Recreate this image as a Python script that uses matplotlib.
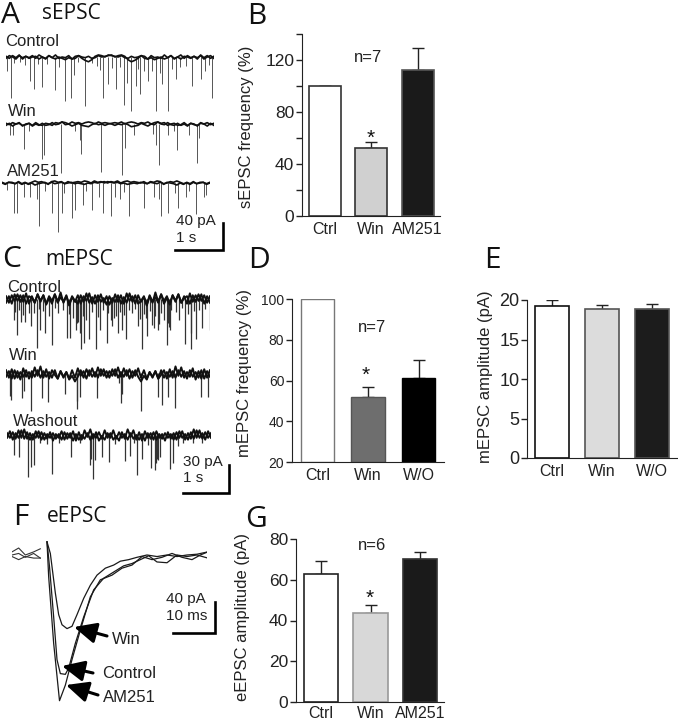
import numpy as np
import matplotlib
matplotlib.use('Agg')
import matplotlib.pyplot as plt

W, H = 678, 720
plt.rcParams['font.family'] = ['Liberation Sans', 'DejaVu Sans']

# bar panels: mean and top of the error bar
b_names = ['Ctrl', 'Win', 'AM251']
b_vals = [100, 52, 112]
b_tops = [100, 57, 129]

d_names = ['Ctrl', 'Win', 'W/O']
d_vals = [100, 52, 61]
d_tops = [100, 57, 70]

e_names = ['Ctrl', 'Win', 'W/O']
e_vals = [19.3, 18.8, 18.9]
e_tops = [20.0, 19.4, 19.5]

g_names = ['Ctrl', 'Win', 'AM251']
g_vals = [63, 43.5, 70]
g_tops = [69, 47.5, 73.5]

# traces: event time (s) and amplitude (pA)
a1_t = [.10, .02, .49, .59, .74, 1.02, 1.23, 1.35, 1.41, 1.64, 1.95, 2.03, 2.12, 2.30, 2.45, 2.52, 2.61, 2.70, 2.79, 2.95,
        3.12, 3.26, 3.37, 3.54, 3.88, 4.06, 4.30, .17, .30, .40, .66, .85, 1.10, 1.50, 1.80, 1.90, 2.20, 2.38, 2.75, 2.88,
        3.05, 3.20, 3.45, 3.62, 3.75, 4.15, 4.22]
a1_a = [61, 20, 36, 47, 44, 49, 65, 60, 26, 72, 19, 60, 40, 47, 70, 38, 80, 43, 55, 36,
        80, 40, 80, 33, 42, 33, 60, 9, 8, 12, 10, 11, 14, 7, 9, 13, 16, 14, 18, 21,
        20, 24, 18, 15, 13, 20, 12]
a2_t = [.09, .14, .38, .74, .80, 1.14, 1.57, 1.54, 1.97, 2.41, 2.47, 3.06, 3.13, 3.19, 3.37, 3.57, 3.81, 3.97, 4.02, .47,
        1.44, 2.66, 3.50]
a2_a = [16, 16, 37, 52, 45, 72, 44, 24, 70, 75, 36, 14, 31, 61, 16, 38, 16, 58, 21, 11,
        11, 16, 11]
a3_t = [.24, .32, .78, .45, 1.05, 1.17, 1.24, 1.45, 1.53, 1.69, 1.88, 2.10, 2.28, 2.45, 2.64, 2.95, 3.16, 3.32, 3.45, 3.67,
        3.83, 4.05, 4.21, 4.26, .59, .72, 2.03, 2.35, 3.28, .10, .90, 1.30, 1.75, 2.55, 3.60, 3.90]
a3_a = [44, 44, 63, 20, 44, 72, 44, 51, 39, 32, 39, 44, 49, 24, 49, 37, 20, 48, 44, 37,
        20, 45, 20, 17, 20, 24, 20, 20, 24, 10, 12, 14, 12, 13, 15, 12]
c1_t = [.23, .16, .31, .41, .53, .66, .73, .84, .98, 1.10, 1.30, 1.37, 1.49, 1.60, 1.66, 1.76, 1.91, 2.01, 2.14, 2.26,
        2.39, 2.46, 2.55, 2.69, 2.81, 2.89, 3.01, 3.14, 3.26, 3.42, 3.48, 3.69, 3.80, 3.93, 4.04, 4.16, 4.34, .48, 1.51, 1.57,
        2.23, 2.34, 3.23, 3.37, 3.94, 3.44, 3.46, 2.98, 3.10, .19, .27, .36, .60, .70, .78, .92, 1.04, 1.22, 1.34, 1.43,
        1.54, 1.63, 1.70, 1.83, 1.96, 2.07, 2.18, 2.30, 2.43, 2.50, 2.62, 2.75, 2.85, 2.94, 3.06, 3.18, 3.30, 3.52, 3.62, 3.75,
        3.87, 3.99, 4.10, 4.24]
c1_a = [38, 22, 24, 24, 29, 52, 33, 36, 49, 15, 41, 41, 33, 53, 47, 43, 53, 33, 47, 29,
        36, 33, 43, 15, 29, 53, 39, 31, 27, 49, 33, 22, 48, 53, 43, 31, 33, 15, 25, 36,
        22, 18, 33, 22, 36, 26, 30, 20, 28, 14, 12, 17, 15, 11, 13, 18, 10, 12, 16, 20,
        24, 18, 22, 14, 19, 12, 15, 20, 14, 17, 12, 11, 21, 16, 13, 18, 15, 12, 14, 10,
        16, 13, 12, 11]
c2_t = [.10, .34, .39, .54, .76, .89, 1.26, 1.50, 1.57, 1.93, 2.44, 2.87, 3.23, 3.31, 3.44, 3.60, 4.14, 4.30, 2.41, .09,
        1.52, 2.46]
c2_a = [29, 27, 19, 40, 27, 31, 22, 38, 25, 27, 32, 40, 25, 34, 25, 37, 25, 26, 11, 24,
        30, 22]
c3_t = [.15, .25, .45, .52, .58, .95, 1.36, 1.76, 1.82, 1.88, 2.02, 2.16, 2.52, 2.61, 2.77, 2.88, 3.06, 3.14, 3.20, 3.25,
        3.46, 3.54, 3.63, 1.79, 3.18, 3.22, .70, .85, 1.10, 1.55, 2.30, 2.70, 3.00, 3.75, 3.95, 4.15]
c3_a = [21, 23, 45, 34, 32, 42, 23, 32, 47, 27, 23, 29, 28, 22, 43, 25, 35, 37, 25, 23,
        36, 30, 12, 26, 30, 27, 8, 10, 8, 9, 10, 9, 11, 8, 9, 8]

# baseline wander (pA)
a1_base = [1, -2, 2, -1, 3, -3, 1, -1, 2, -2, 3, 0, -3, 2, -1, 3, -2, 0, -1, 2, -3, 1, 2, -2, -5, -7, -4, 1, 3, 2, 0, 3, 2,
           1, 0, 2, -1, -2, 1, -1, 0, 2, -2, -3, -1, -4, -2, 0, -3, -1, 2, -2, 0, -3, 1, 0, -2, 1, -1, 2, -3, 0, 2, -2]
a2_base = [-2, 1, -3, 0, 2, -3, 0, 1, -2, 2, -1, -2, 1, 0, -2, 2, 1, 3, -1, 0, -3, -1, 1, -2, -3, -4, -1, 1, -1, 0, -2, 0, 1,
           2, 1, 3, 0, 2, 3, 2, 0, 2, 1, 3, 0, 2, 3, 0, -1, 2, -1, -2, 1, -2, 0, -3, 1, -1, -2, 1, 0, 2, -1, 1]
a3_base = [0, -2, 1, 1, -1, 2, -1, 1, -2, 0, -3, -1, 0, 1, -2, 2, 3, 1, 2, -1, 0, 1, -1, 0, -1, -2, 0, -1, 1, 0, 1, 2, 0,
           2, 1, 3, 0, 2, 3, 1, 2, 1, 0, 2, -1, 1, 0, -1, 1, -1, 0, 2, 1, 3, 1, -1, 0, -2, 1, -1, 0, 1, -1, 1]
c1_base = [3, -4, 4, -2, 5, -3, 4, -5, 3, 1, -4, 5, -3, 4, -5, 3, -2, 5, -4, 2, -3, 4, -6, 3, -2, -5, 4, -3, 6, -4, 2, -5, 4,
           -3, 1, -6, 3, -4, 5, -3, 4, -5, 6, -2, 3, -5, 4, -3, 2, -7, 3, -4, 7, -3, 5, -5, 1, -6, 4, -2, 5, -4, 3, -5, 6, -3,
           4, -2, 5, -5, 3, -4]
c2_base = [3, -5, 4, -6, 2, -7, 5, -4, 1, -5, 6, -3, 7, -5, 4, -6, 3, -2, -6, 2, -5, 1, -7, -3, -9, -4, 3, -5, 4, -3, 5, -4, 6,
           -3, 4, -5, 2, -3, 4, -5, 1, -4, 3, -6, 2, -3, 5, -5, 3, -6, 1, -4, 2, -6, 3, -5, 1, -4, 2, -5, 3, -4, 2, -6, 3, -4,
           1, -5, 3, -6, 2, -4]
c3_base = [2, -3, 3, -4, 5, -3, 6, -4, 2, -5, 4, -3, 3, -5, 1, -3, 2, -4, 1, -5, 3, -4, 2, -6, 1, -5, 0, -4, 2, -5, 1, -3, 3,
           -4, 5, -3, 2, -5, -1, -6, 3, -4, 6, -2, 5, -5, 3, -6, 4, -3, 2, -5, 4, -3, 1, -6, 3, -4, 2, -5, 4, -3, 1, -5, 3, -4,
           5, -3, 2, -5, 4, -3]

# evoked currents: time (ms), current (pA)
win_t = [8.4, 9.2, 10.4, 11.2, 12, 13.2, 14.4, 15.6, 17.2, 18.8, 20.4, 22.4, 24.4, 26, 28, 30, 32.4, 34.8, 37.2, 39.6, 42, 44.4, 47]
win_i = [17, 2, -49, -77, -90, -95, -92, -77, -56, -39, -26, -17, -13, -8, -6, -3, 0, -2, 0, -2, 0, 1, 4]
ctrl_t = [8.4, 9, 10, 10.8, 11.6, 12.8, 13.6, 15.2, 17.2, 19.6, 22, 24.4, 26.8, 28.8, 30.8, 32.8, 34.8, 37.2, 39.6, 42, 44.4, 47]
ctrl_i = [17, -15, -80, -135, -153, -154, -146, -114, -80, -45, -30, -22, -14, -11, -6, -1, -9, -10, 0, -2, 0, -4]
am_t = [8.4, 8.8, 10, 11.4, 12.8, 14.4, 16.4, 18.8, 21.2, 24, 26.4, 28.8, 31.2, 33.6, 36, 38.4, 40.8, 43.2, 45.2, 47]
am_i = [17, -28, -114, -188, -168, -135, -97, -54, -32, -26, -17, -13, -2, -6, -3, 2, -3, -6, 0, 4]
pre_t = [0, 1.6, 3.2, 5.2, 6.8]
pre_1 = [4, 9, 0, 4, 8]
pre_2 = [-2, -6, -2, -4, -4]
pre_3 = [0, 2, -3, 2, -4]


def px_axes(x0, y0, x1, y1):
    return fig.add_axes([x0 / W, 1 - y1 / H, (x1 - x0) / W, (y1 - y0) / H])


def bar_panel(rect, names, vals, tops, fills, edges, lim, major, minor, ylabel, label_x, label_y, centers, width, edge_w,
              tick_size=12, xpad=4):
    x0, y0, x1, y1 = rect
    ax = px_axes(x0, y0, x1, y1)
    step = centers[1] - centers[0]
    ax.set_xlim((x0 - centers[0]) / step, (x1 - centers[0]) / step)
    ax.set_ylim(lim)
    pos = np.arange(len(vals))
    err = np.array(tops) - np.array(vals)
    ax.errorbar(pos, vals, yerr=[np.zeros(len(err)), err], fmt='none', ecolor='#222222',
                elinewidth=1, capsize=4.5, capthick=1, zorder=1)
    ax.bar(pos, np.array(vals) - lim[0], width=width / step, bottom=lim[0], color=fills, edgecolor=edges,
           linewidth=edge_w, zorder=2)
    ax.spines['top'].set_visible(False)
    ax.spines['right'].set_visible(False)
    ax.spines['left'].set_color('#222222')
    ax.spines['bottom'].set_color('#222222')
    ax.set_yticks(major)
    ax.set_yticks(minor, minor=True)
    ax.tick_params(axis='y', which='both', length=4, width=1, labelsize=tick_size, pad=1.5, color='#222222', labelcolor='#222222')
    ax.set_xticks(pos)
    ax.set_xticklabels(names)
    ax.tick_params(axis='x', length=0, labelsize=11.5, pad=xpad, labelcolor='#222222')
    ax.set_ylabel(ylabel, fontsize=12, color='#222222')
    ax.yaxis.set_label_coords((label_x - x0) / (x1 - x0), (y1 - label_y) / (y1 - y0))
    ax.patch.set_alpha(0)
    return ax


def trace_axes(x0, y_base, px_s, px_pa, dur, t, a, base, lw_base, lw_spike, spike_col):
    # keep 100 pA of room below the baseline for the long events
    ax = px_axes(x0, y_base - 10 * px_pa, x0 + dur * px_s, y_base + 100 * px_pa)
    ax.set_xlim(0, dur)
    ax.set_ylim(-100, 10)
    ax.axis('off')
    ax.vlines(t, 0, -np.array(a), color=spike_col, linewidth=lw_spike)
    # noise band: the read values drawn forward and backward
    xs = np.linspace(0, dur, len(base))
    ax.plot(xs, base, color='#111111', linewidth=lw_base)
    ax.plot(xs, base[::-1], color='#111111', linewidth=lw_base)
    return ax


fig = plt.figure(figsize=(W / 100, H / 100), dpi=100)

# sEPSC traces
trace_axes(6, 57, 48, 0.68, 4.33, a1_t, a1_a, a1_base, 1.2, 0.7, '#555555')
trace_axes(6, 124, 48, 0.68, 4.33, a2_t, a2_a, a2_base, 1.2, 0.7, '#555555')
trace_axes(2, 183, 48, 0.68, 4.33, a3_t, a3_a, a3_base, 1.2, 0.7, '#555555')

# mEPSC traces
trace_axes(6, 299, 47, 0.94, 4.34, c1_t, c1_a, c1_base, 1.4, 0.9, '#333333')
trace_axes(6, 373, 47, 0.94, 4.34, c2_t, c2_a, c2_base, 1.4, 0.9, '#333333')
trace_axes(7, 435, 47, 0.94, 4.34, c3_t, c3_a, c3_base, 1.4, 0.9, '#333333')

# eEPSC
ax_f = px_axes(12, 536, 207, 710)
ax_f.set_xlim(0, 46.8)
ax_f.set_ylim(-200, 24.5)
ax_f.axis('off')
for tt, ii in [(win_t, win_i), (ctrl_t, ctrl_i), (am_t, am_i)]:
    ax_f.plot(tt, ii, color='#1a1a1a', linewidth=0.9)
for ii in [pre_1, pre_2, pre_3]:
    ax_f.plot(pre_t, ii, color='#333333', linewidth=0.8)

# bar panels
bar_panel((302, 34, 440, 216), b_names, b_vals, b_tops, ['white', '#d0d0d0', '#1a1a1a'], ['#333333', '#333333', '#555555'],
          (0, 140), [0, 40, 80, 120], [20, 60, 100, 140], 'sEPSC frequency (%)', 254, 127, [324.5, 371, 417], 32, 1.2, 12.5)
bar_panel((292, 299, 444, 462), d_names, d_vals, d_tops, ['white', '#6e6e6e', 'black'], ['#777777', '#555555', 'black'],
          (20, 100), [20, 40, 60, 80, 100], [], 'mEPSC frequency (%)', 252, 373, [317.5, 368, 418.5], 33.5, 1, 10)
bar_panel((527, 300, 677, 458), e_names, e_vals, e_tops, ['white', '#dcdcdc', '#1c1c1c'], ['#111111', '#555555', '#555555'],
          (0, 20), [0, 5, 10, 15, 20], [], 'mEPSC amplitude (pA)', 493, 377, [552, 602, 651.5], 34.5, 1.2, 13)
bar_panel((296, 539, 444, 702), g_names, g_vals, g_tops, ['white', '#d8d8d8', '#1a1a1a'], ['#222222', '#999999', '#333333'],
          (0, 80), [0, 20, 40, 60, 80], [], 'eEPSC amplitude (pA)', 250, 617, [321, 370.5, 419.5], 34.5, 1.2, 12.5, 3)

# overlay in image pixels for lettering, scale bars and arrows
ov = fig.add_axes([0, 0, 1, 1])
ov.set_xlim(0, W)
ov.set_ylim(H, 0)
ov.axis('off')
ov.patch.set_alpha(0)

for s, x, y in [('A', 1, 23), ('B', 247, 24), ('C', 2, 267), ('D', 248, 268), ('E', 484, 268), ('F', 13, 525), ('G', 245, 527)]:
    ov.text(x, y, s, fontsize=21.5, family='Open Sans', color='#111111', va='baseline', ha='left')
for s, x, y in [('sEPSC', 42, 19), ('mEPSC', 45, 265), ('eEPSC', 47, 522)]:
    ov.text(x, y, s, fontsize=15, family='Open Sans', color='#111111', va='baseline', ha='left')

for s, x, y in [('Control', 5, 41), ('Win', 8, 112), ('AM251', 7, 172), ('Control', 7, 287), ('Win', 9, 355), ('Washout', 13, 421),
                ('Win', 112, 639), ('Control', 102, 673), ('AM251', 103, 697)]:
    ov.text(x, y, s, fontsize=12, color='#222222', va='center', ha='left')
for s, x, y in [('40 pA', 176, 221), ('1 s', 176, 238), ('30 pA', 183, 462), ('1 s', 183, 478), ('40 pA', 166, 599), ('10 ms', 166, 616)]:
    ov.text(x, y, s, fontsize=11, color='#222222', va='center', ha='left')

for s, x, y in [('n=7', 368, 58), ('n=7', 372, 328), ('n=6', 372, 545)]:
    ov.text(x, y, s, fontsize=12, color='#222222', va='center', ha='center')
for x, y in [(371, 138), (366, 375), (370, 598)]:
    ov.text(x, y, '*', fontsize=15, color='#111111', va='center', ha='center')

for xs, ys in [((175, 223, 223), (250, 250, 223)), ((183, 229, 229), (493, 493, 465)), ((173, 215, 215), (633, 633, 602))]:
    ov.plot(xs, ys, color='black', linewidth=1.9, solid_joinstyle='miter')

for tail, head in [((107, 636), (74, 627)), ((93, 673), (62, 666)), ((98, 695), (66, 685))]:
    ov.annotate('', xy=head, xytext=tail,
                arrowprops=dict(arrowstyle='-|>,head_width=0.42,head_length=0.9', color='black', linewidth=2.2,
                                shrinkA=0, shrinkB=0, mutation_scale=15))

fig.savefig('out.png', dpi=100)
